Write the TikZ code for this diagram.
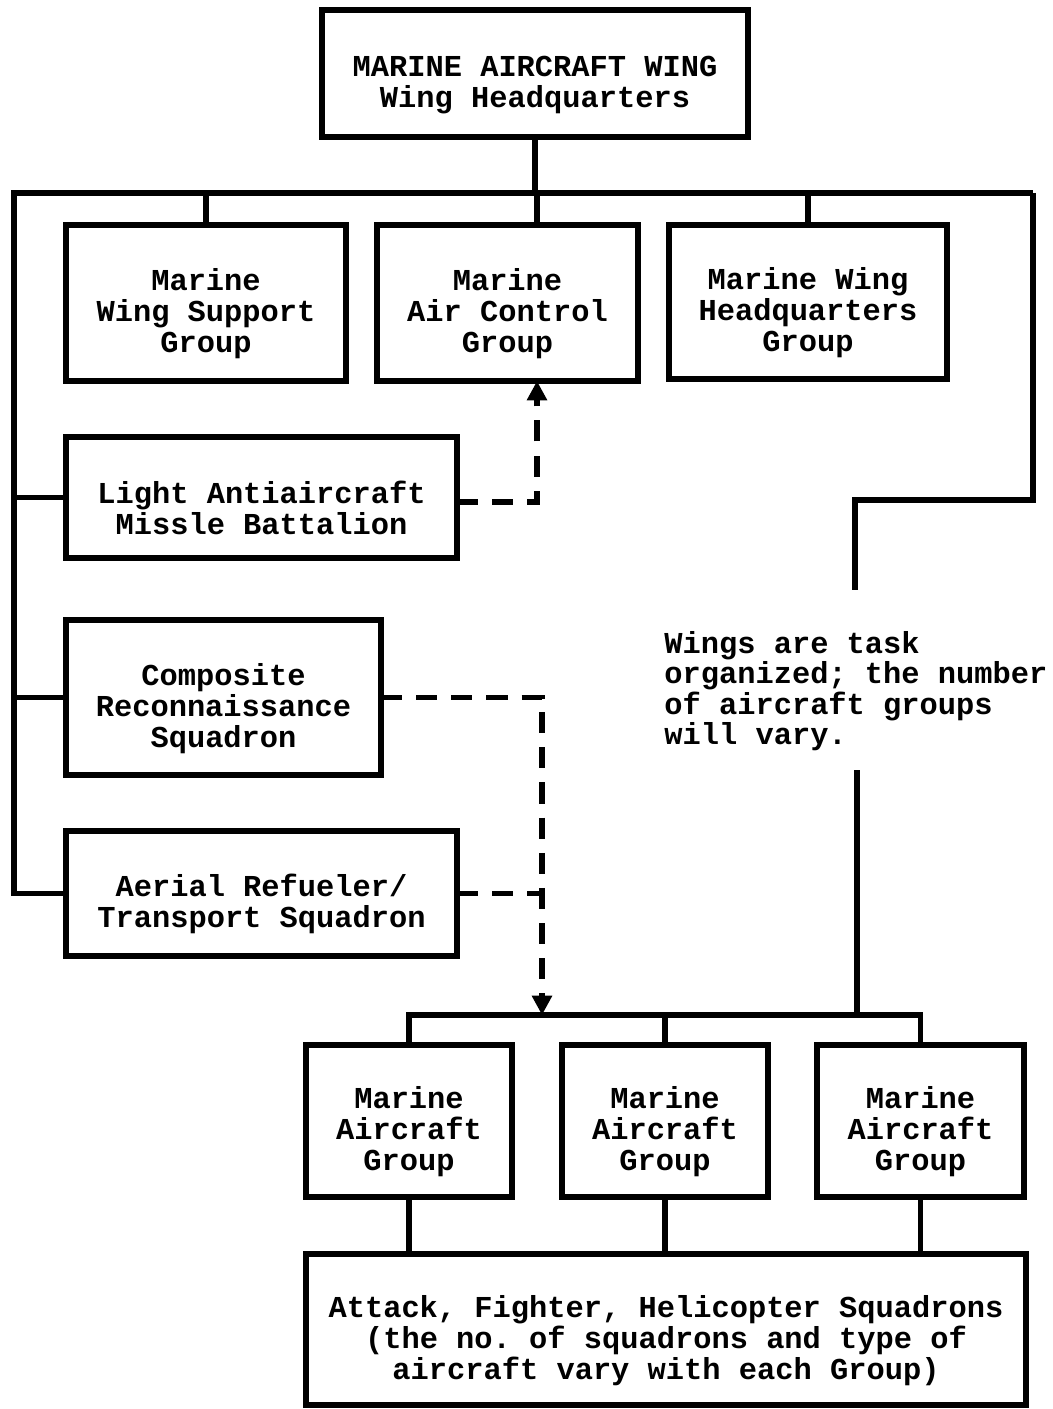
\documentclass[tikz,border=0pt]{standalone}
\usepackage{fontspec}
\setmonofont{Liberation Mono}
\usepackage{tikz}
\usetikzlibrary{arrows.meta}

\newcommand\lift{\rule{0pt}{0.88cm}}

\tikzset{
  unit/.style={draw, line width=3.8pt, align=center, inner sep=0pt, outer sep=0pt,
    font=\ttfamily\bfseries\fontsize{17.3}{17.6}\selectfont},
  link/.style={line width=3.2pt},
  dotlink/.style={line width=2.9pt, dash pattern=on 12pt off 8pt},
  tip/.style={-{Triangle[length=11pt,width=11pt]}}
}

\begin{document}
\begin{tikzpicture}[x=0.02cm, y=-0.02cm]
  \useasboundingbox (0,0) rectangle (1052,1409);
  \fill[white] (0,0) rectangle (1052,1409);

  % wing headquarters and first row
  \node[unit, minimum width=426*0.02cm, minimum height=127*0.02cm] (top) at (535,73.5)
    {\lift MARINE AIRCRAFT WING\\Wing Headquarters};
  \node[unit, minimum width=280*0.02cm, minimum height=156*0.02cm] (wsg) at (206,303)
    {\lift Marine\\Wing Support\\Group};
  \node[unit, minimum width=261*0.02cm, minimum height=156*0.02cm] (macg) at (507.5,303)
    {\lift Marine\\Air Control\\Group};
  \node[unit, minimum width=278*0.02cm, minimum height=154*0.02cm] (mwhg) at (808,302)
    {\lift Marine Wing\\Headquarters\\Group};

  % units on the left line
  \node[unit, minimum width=391*0.02cm, minimum height=121*0.02cm] (laam) at (261.5,497.5)
    {\lift Light Antiaircraft\\Missle Battalion};
  \node[unit, minimum width=315*0.02cm, minimum height=155*0.02cm] (crs) at (223.5,697.5)
    {\lift Composite\\Reconnaissance\\Squadron};
  \node[unit, minimum width=391*0.02cm, minimum height=125*0.02cm] (arts) at (261.5,893.5)
    {\lift Aerial Refueler/\\Transport Squadron};

  % aircraft groups
  \node[unit, minimum width=206*0.02cm, minimum height=152*0.02cm] (mag1) at (409,1121)
    {\lift Marine\\Aircraft\\Group};
  \node[unit, minimum width=206*0.02cm, minimum height=152*0.02cm] (mag2) at (665,1121)
    {\lift Marine\\Aircraft\\Group};
  \node[unit, minimum width=207*0.02cm, minimum height=152*0.02cm] (mag3) at (920.5,1121)
    {\lift Marine\\Aircraft\\Group};
  \node[unit, minimum width=720*0.02cm, minimum height=151*0.02cm] (sqd) at (666,1329.5)
    {\lift Attack, Fighter, Helicopter Squadrons\\(the no. of squadrons and type of\\aircraft vary with each Group)};

  \node[align=left, anchor=west, inner sep=0pt,
    font=\ttfamily\bfseries\fontsize{17.3}{15.6}\selectfont] (note) at (664,691)
    {Wings are task\\organized; the number\\of aircraft groups\\will vary.};

  \coordinate (busL) at (14,193);
  \coordinate (busR) at (1033,193);
  \coordinate (jog) at (855,500);
  \coordinate (gapA) at (855,590);
  \coordinate (gapB) at (857,770);
  \coordinate (busM) at (542,1015);
  \coordinate (upA) at (537,502);

  % solid lines
  \draw[link] (top.south) -- (top.south |- busL);
  \draw[link] (busR) -- (busL) -- (busL |- arts.west) -- (arts.west);
  \draw[link] (busL |- laam.west) -- (laam.west);
  \draw[link] (busL |- crs.west) -- (crs.west);
  \draw[link] (wsg.north) -- (wsg.north |- busL);
  \draw[link] (upA |- macg.north) -- (upA |- busL);
  \draw[link] (mwhg.north) -- (mwhg.north |- busL);
  \draw[link] (busR) -- (busR |- jog) -- (jog) -- (gapA);
  \draw[link] (gapB) -- (gapB |- busM);
  \draw[link] (mag1.north) -- (mag1.north |- busM) -- (mag3.north |- busM) -- (mag3.north);
  \draw[link] (mag2.north) -- (mag2.north |- busM);
  \draw[link] (mag1.south) -- (mag1.south |- sqd.north);
  \draw[link] (mag2.south) -- (mag2.south |- sqd.north);
  \draw[link] (mag3.south) -- (mag3.south |- sqd.north);

  % dashed lines
  \draw[dotlink, tip] (laam.east |- upA) -- (upA) -- (upA |- macg.south);
  \draw[dotlink, tip] (crs.east) -- (crs.east -| busM) -- (busM);
  \draw[dotlink] (arts.east) -- (arts.east -| busM);
\end{tikzpicture}
\end{document}
